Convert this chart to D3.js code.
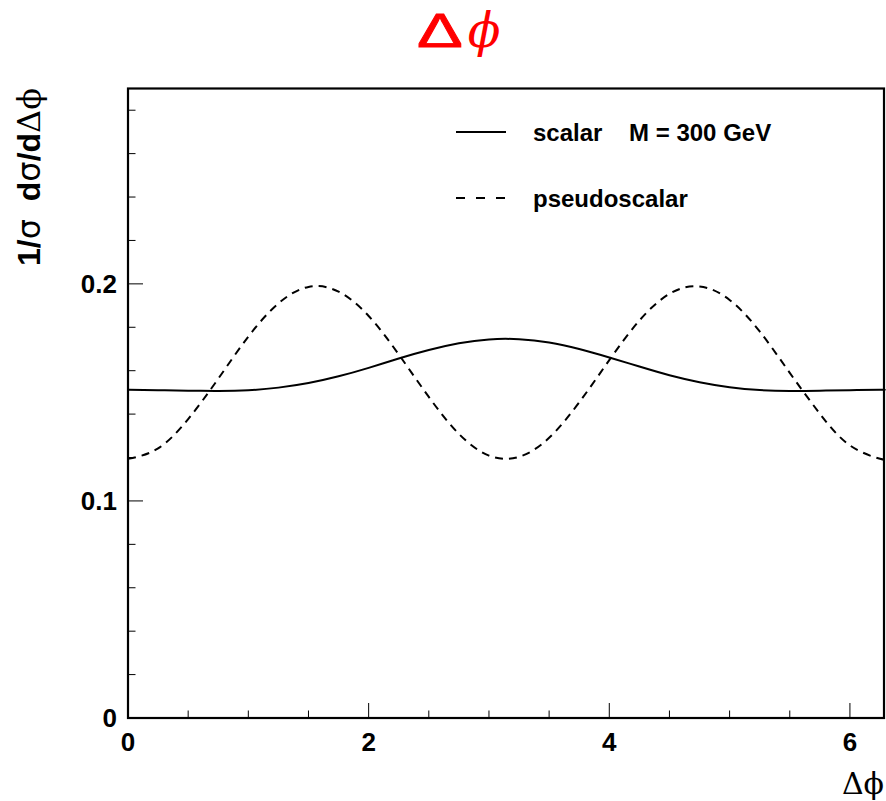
<!DOCTYPE html>
<html>
<head>
<meta charset="utf-8">
<script src="https://cdn.jsdelivr.net/npm/d3@7/dist/d3.min.js"></script>
<style>
  html, body { margin: 0; padding: 0; background: #fff; }
  text { font-family: "Liberation Sans", Arial, sans-serif; }
</style>
</head>
<body>
<div id="chart"></div>
<script>
// values, x in radians
var dphi = [0, 0.25, 0.5, 0.75, 1.0, 1.25, 1.5, 1.75, 2.0, 2.25, 2.5, 2.75, 3.0,
            3.25, 3.5, 3.75, 4.0, 4.25, 4.5, 4.75, 5.0, 5.25, 5.5, 5.75, 6.0, 6.25, 6.2832];
var scalar = [0.1512, 0.1510, 0.1508, 0.1507, 0.1510, 0.1522, 0.1543, 0.1574, 0.1613,
              0.1656, 0.1695, 0.1726, 0.1744, 0.1745, 0.1730, 0.1700, 0.1661, 0.1619,
              0.1579, 0.1547, 0.1524, 0.1511, 0.1507, 0.1508, 0.1510, 0.1512, 0.1512];
var pseudo = [0.1194, 0.1242, 0.1377, 0.1563, 0.1757, 0.1910, 0.1986, 0.1964, 0.1852,
              0.1675, 0.1479, 0.1309, 0.1209, 0.1203, 0.1291, 0.1454, 0.1649, 0.1831,
              0.1954, 0.1988, 0.1926, 0.1781, 0.1590, 0.1402, 0.1256, 0.1194, 0.1194];
var xTicks = [0, 2, 4, 6];
var yTicks = [0, 0.1, 0.2];
var legendLabels = ["scalar    M = 300 GeV", "pseudoscalar"];

var W = 886, H = 801;
var frame = { left: 128, right: 884, top: 88.5, bottom: 718 };

var svg = d3.select("#chart").append("svg")
    .attr("width", W)
    .attr("height", H);

var x = d3.scaleLinear().domain([0, 2 * Math.PI]).range([frame.left, frame.right]);
var y = d3.scaleLinear().domain([0, 0.29]).range([frame.bottom, frame.top]);

// ticks: major every 2 (x) / 0.1 (y), minor in between
var xMinor = d3.range(0, 6.3, 0.5);
var yMinor = d3.range(0, 0.29, 0.02);

var g = svg.append("g");

g.selectAll(".xminor").data(xMinor).enter().append("line")
    .attr("x1", function(d) { return x(d); })
    .attr("x2", function(d) { return x(d); })
    .attr("y1", frame.bottom)
    .attr("y2", function(d) { return frame.bottom - (d % 2 === 0 ? 15 : 7.5); })
    .style("stroke", "#000")
    .style("stroke-width", 1);

g.selectAll(".yminor").data(yMinor).enter().append("line")
    .attr("y1", function(d) { return y(d); })
    .attr("y2", function(d) { return y(d); })
    .attr("x1", frame.left)
    .attr("x2", function(d) {
      var major = Math.abs(d * 10 - Math.round(d * 10)) < 1e-6;
      return frame.left + (major ? 15 : 7.5);
    })
    .style("stroke", "#000")
    .style("stroke-width", 1);

// frame box
g.append("rect")
    .attr("x", frame.left)
    .attr("y", frame.top)
    .attr("width", frame.right - frame.left)
    .attr("height", frame.bottom - frame.top)
    .style("fill", "none")
    .style("stroke", "#000")
    .style("stroke-width", 2.2);

// tick labels
g.selectAll(".xlab").data(xTicks).enter().append("text")
    .attr("x", function(d) { return x(d); })
    .attr("y", 751)
    .attr("text-anchor", "middle")
    .style("font-size", "26px")
    .style("font-weight", "bold")
    .text(function(d) { return d; });

g.selectAll(".ylab").data(yTicks).enter().append("text")
    .attr("x", 117)
    .attr("y", function(d) { return y(d) + 9; })
    .attr("text-anchor", "end")
    .style("font-size", "26px")
    .style("font-weight", "bold")
    .text(function(d) { return d === 0 ? "0" : d.toFixed(1); });

// curves
var line = d3.line()
    .x(function(d) { return x(d[0]); })
    .y(function(d) { return y(d[1]); })
    .curve(d3.curveNatural);

g.append("path")
    .attr("d", line(d3.zip(dphi, scalar)))
    .style("fill", "none")
    .style("stroke", "#000")
    .style("stroke-width", 2);

g.append("path")
    .attr("d", line(d3.zip(dphi, pseudo)))
    .style("fill", "none")
    .style("stroke", "#000")
    .style("stroke-width", 2)
    .style("stroke-dasharray", "8,6");

// legend
var legend = g.selectAll(".legend").data(legendLabels).enter().append("g")
    .attr("transform", function(d, i) { return "translate(456," + (132 + i * 66) + ")"; });

legend.append("line")
    .attr("x1", 0).attr("x2", 50)
    .attr("y1", 0).attr("y2", 0)
    .style("stroke", "#000")
    .style("stroke-width", 2)
    .style("stroke-dasharray", function(d, i) { return i === 0 ? null : "9,11"; });

legend.append("text")
    .attr("x", 77)
    .attr("y", 9)
    .style("font-size", "24px")
    .style("font-weight", "bold")
    .style("white-space", "pre")
    .attr("xml:space", "preserve")
    .text(function(d) { return d; });

// title: wide hollow delta + italic phi
svg.append("text")
    .attr("transform", "translate(440,47) scale(1.4,1)")
    .attr("text-anchor", "middle")
    .style("font-family", "'Liberation Sans', Arial, sans-serif")
    .style("font-size", "49px")
    .style("fill", "#ff0000")
    .style("stroke", "#ff0000")
    .style("stroke-width", 0.8)
    .text("Δ");
svg.append("text")
    .attr("x", 484)
    .attr("y", 47)
    .attr("text-anchor", "middle")
    .style("font-family", "'DejaVu Serif', serif")
    .style("font-style", "italic")
    .style("font-size", "48px")
    .style("fill", "#ff0000")
    .text("ϕ");

// y axis title
var ytitle = svg.append("text")
    .attr("transform", "translate(40,88) rotate(-90)")
    .attr("text-anchor", "end")
    .style("font-size", "32px")
    .style("font-weight", "bold")
    .style("white-space", "pre")
    .attr("xml:space", "preserve");
ytitle.append("tspan").text("1/");
ytitle.append("tspan").style("font-weight", "normal").style("font-family", "'DejaVu Sans', sans-serif").text("σ");
ytitle.append("tspan").text("  d");
ytitle.append("tspan").style("font-weight", "normal").style("font-family", "'DejaVu Sans', sans-serif").text("σ");
ytitle.append("tspan").text("/d");
ytitle.append("tspan").style("font-weight", "normal").style("font-family", "'DejaVu Serif', serif").text("Δϕ");

// x axis title
svg.append("text")
    .attr("x", 884)
    .attr("y", 794)
    .attr("text-anchor", "end")
    .style("font-family", "'DejaVu Serif', serif")
    .style("font-size", "30px")
    .text("Δϕ");
</script>
</body>
</html>
